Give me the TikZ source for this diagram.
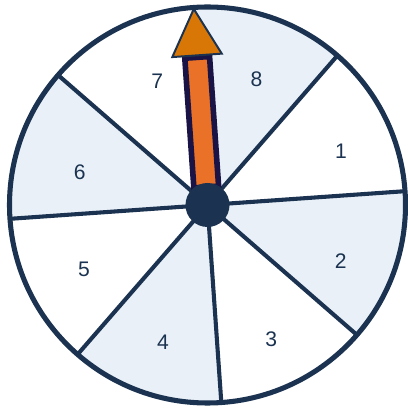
\documentclass[tikz,border=0pt]{standalone}
\usepackage{fontspec}
\setmainfont{Liberation Sans}
\definecolor{wheelnavy}{HTML}{1B3350}
\definecolor{sectorblue}{HTML}{E9F0F8}
\definecolor{pointerorange}{HTML}{EA7128}
\definecolor{tiporange}{HTML}{D97706}
\definecolor{shaftnavy}{HTML}{1A1446}
\tikzstyle{divider} = [line width=2.9pt, draw=wheelnavy]
\tikzstyle{rim} = [line width=3.6pt, draw=wheelnavy]
\tikzstyle{number} = [text=wheelnavy, font=\fontsize{15}{18}\selectfont]
\tikzstyle{shaft} = [line width=4pt, draw=shaftnavy, fill=pointerorange]
\tikzstyle{tip} = [line width=1.4pt, draw=wheelnavy, fill=tiporange, line join=miter]
\tikzstyle{hubdot} = [circle, fill=wheelnavy, minimum size=1.1cm, inner sep=0pt]

\begin{document}
\begin{tikzpicture}
    \useasboundingbox (-5.1875,-5.075) rectangle (5.0125,5.125);
    % Sectors
    \fill[white] (0,0) circle (4.95);
    \foreach \a in {49,139,229,319}
        \fill[sectorblue] (0,0) -- (\a:4.95) arc[start angle=\a, end angle=\a+45, radius=4.95] -- cycle;

    % Numbers
    \foreach \n/\a/\r in {1/22/3.6, 2/-23/3.62, 3/-64.6/3.72, 4/252/3.6, 5/207.5/3.48, 6/165.5/3.3, 7/112/3.35, 8/68.7/3.38}
        \node[number] (num\n) at (\a:\r) {\n};

    % Dividers and rim
    \foreach \a in {4,49,...,319}
        \draw[divider] (0,0) -- (\a:4.95);
    \draw[rim] (0,0) circle (4.95);

    % Pointer
    \begin{scope}[rotate=4]
        \draw[shaft] (-0.31,0.45) rectangle (0.31,3.7);
        \draw[tip] (-0.62,3.75) -- (0.62,3.75) -- (0,4.9125) -- cycle;
    \end{scope}
    \node[hubdot] (hub) at (0,0) {};
\end{tikzpicture}
\end{document}
